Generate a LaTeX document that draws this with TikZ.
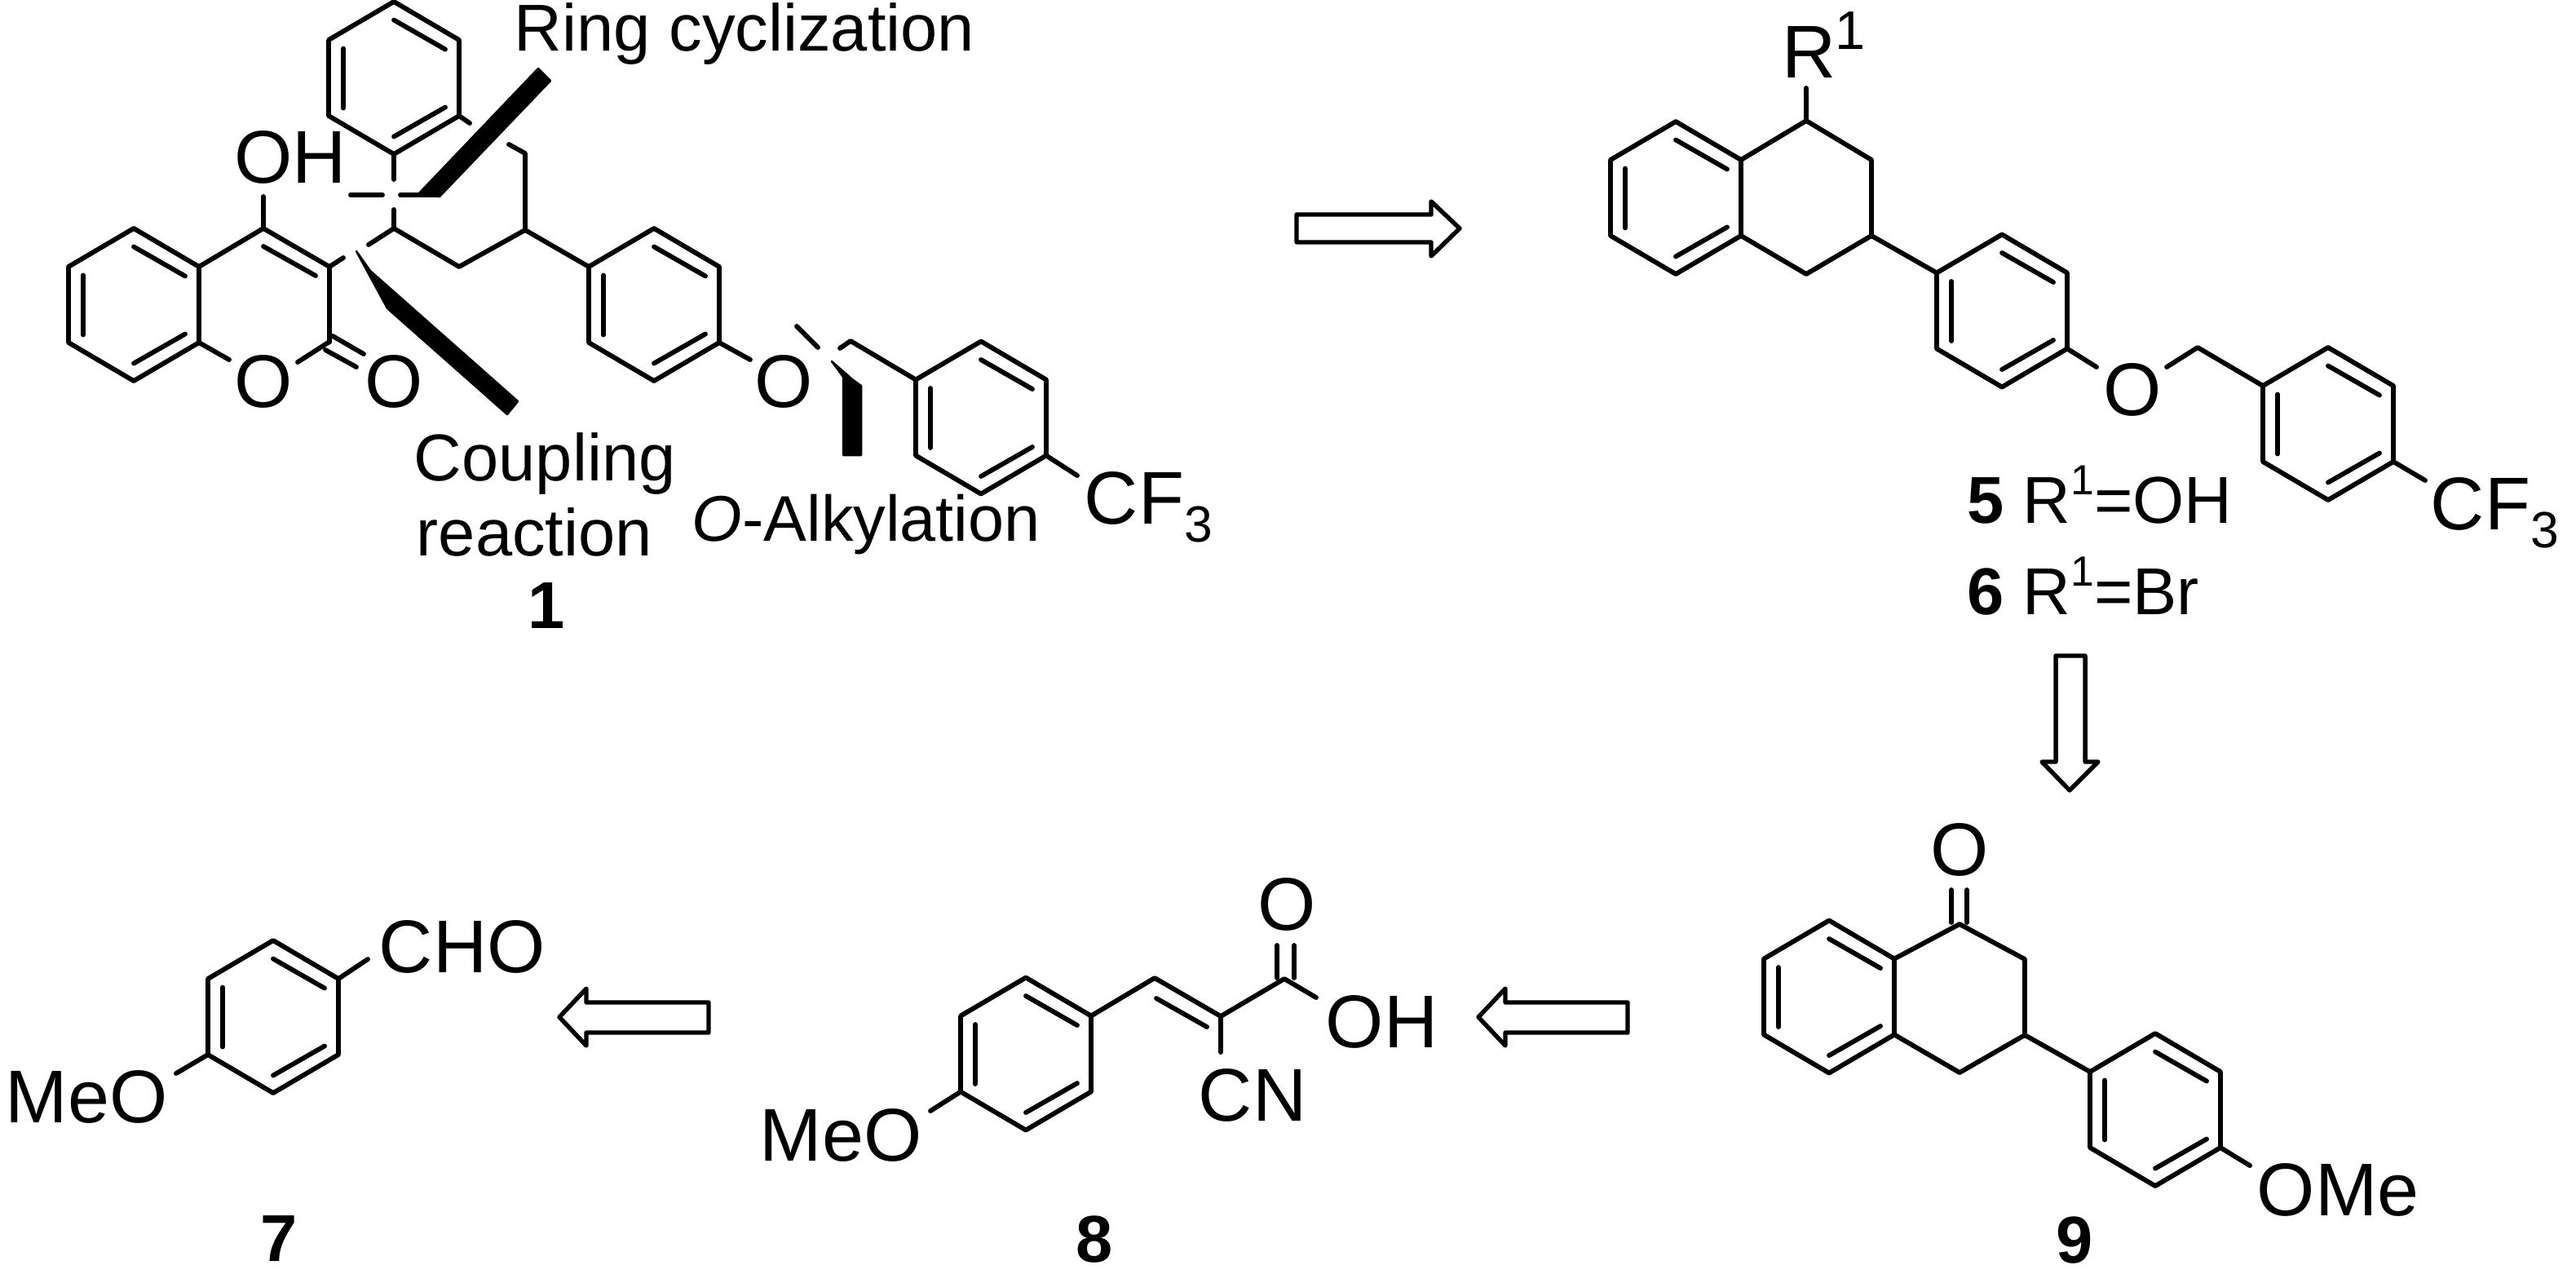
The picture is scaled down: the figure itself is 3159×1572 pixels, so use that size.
\documentclass[tikz,border=0pt]{standalone}
\usepackage{fontspec}
\setmainfont{Liberation Sans}
\newcommand{\atomfont}{\fontsize{22}{26}\selectfont}
\newcommand{\labelfont}{\fontsize{19.5}{23}\selectfont}
\newcommand{\lowthree}{\raisebox{-.25em}{\fontsize{15}{18}\selectfont 3}}
\newcommand{\highone}{\raisebox{.42em}{\fontsize{12.4}{15}\selectfont 1}}
\tikzset{
    bond/.style={line width=1.4pt, line cap=round, line join=round},
    inner/.style={bond},
    hollow/.style={line width=1.3pt, line join=round, fill=white},
    solidwedge/.style={fill=black, draw=black, line width=.6pt, line join=round},
    atom/.style={font=\atomfont, inner sep=0pt},
    atomtext/.style={font=\atomfont, inner sep=0pt, anchor=base west},
    labeltext/.style={font=\labelfont, inner sep=0pt, anchor=base west},
    tag/.style={font=\labelfont\bfseries, inner sep=0pt, anchor=base}
}
\begin{document}
\begin{tikzpicture}[x=.24pt, y=-.24pt]
    \useasboundingbox (0,0) rectangle (3159,1572);
    % every ring is the same hexagon, only the centre changes
    \foreach \r/\cx/\cy in {a/164/373.5, b/483/95.5, c/802/373.5, d/1203/512,
                            e/2055/242.5, f/2455/381, g/2855/519.5,
                            h/2243/1222, i/2643/1360.5, j/335/1246.5, k/1258/1292}{
        \coordinate (\r1) at (\cx,\cy-93.5);
        \coordinate (\r2) at (\cx+80,\cy-46.5);
        \coordinate (\r3) at (\cx+80,\cy+46.5);
        \coordinate (\r4) at (\cx,\cy+93.5);
        \coordinate (\r5) at (\cx-80,\cy+46.5);
        \coordinate (\r6) at (\cx-80,\cy-46.5);
        \draw[bond] (\r1)--(\r2)--(\r3)--(\r4)--(\r5)--(\r6)--cycle;
        \draw[inner] (\cx,\cy-71)--(\cx+63,\cy-35);
        \draw[inner] (\cx-62,\cy-36)--(\cx-62,\cy+37);
        \draw[inner] (\cx,\cy+72)--(\cx+63,\cy+36);
    }

    % compound 1
    \node[atom] (oh1) at (356,193) {OH};
    \node[atom] (ring1) at (323,468) {O};
    \node[atom] (keto1) at (483,468) {O};
    \node[atom] (ether1) at (961,468) {O};
    \node[atomtext] (cf1) at (1329,642) {CF\lowthree};
    \coordinate (p4) at (323,280);
    \coordinate (p3) at (404,327);
    \coordinate (p2) at (404,419);
    \coordinate (ch1) at (483,280);
    \coordinate (cm1) at (563,327);
    \coordinate (cn1) at (644,282);
    \coordinate (cu1) at (644,188);
    \coordinate (bz1) at (1043,418);
    \draw[bond] (a2)--(p4)--(p3)--(p2);
    \draw[bond] (a2)--(a3);
    \draw[bond] (p4)--(323,241);
    \draw[bond] (323,302)--(387,338);
    \draw[bond] (a3)--(281,441);
    \draw[bond] (p2)--(365,444);
    \draw[bond] (408,412)--(446,434);
    \draw[bond] (399,429)--(437,450);
    \draw[bond] (p3)--(421,316);
    \draw[bond] (452,300)--(ch1)--(cm1)--(cn1)--(cu1)--(624,177);
    \draw[bond] (ch1)--(483,257);
    \draw[bond] (b4)--(483,220);
    \draw[bond] (b3)--(576,151);
    \draw[bond] (430,239)--(469,239);
    \draw[bond] (491,239)--(536,239);
    \draw[bond] (cn1)--(c6);
    \draw[bond] (c3)--(920,441);
    \draw[bond] (977,400)--(1003,426);
    \draw[bond] (1030,427)--(bz1)--(d6);
    \draw[bond] (d3)--(1321,583);
    \fill[solidwedge] (660,84)--(675,99)--(539,241)--(512,239)--cycle;
    \fill[solidwedge] (437,308)--(454,332)--(635,492)--(622,508)--(475,378)--cycle;
    \fill[solidwedge] (1020,443)--(1045,465)--(1056,473)--(1056,558)--(1034,558)--(1034,462)--cycle;
    \node[labeltext] (cyc) at (630,62) {Ring cyclization};
    \node[labeltext] (cpl) at (507,589) {Coupling};
    \node[labeltext] (rea) at (510,681) {reaction};
    \node[labeltext, font=\fontsize{19}{23}\selectfont] (alk) at (848,663) {\textit{O}-Alkylation};
    \node[tag] (n1) at (670,770) {1};

    % compounds 5 and 6
    \node[atomtext] (r5) at (2185,95) {R};
    \node[font=\fontsize{16}{19}\selectfont, inner sep=0pt, anchor=base west] (r5up) at (2250,60) {1};
    \node[atom] (ether5) at (2615,478) {O};
    \node[atomtext] (cf5) at (2980,649) {CF\lowthree};
    \coordinate (c15) at (2215,148);
    \coordinate (c25) at (2295,196);
    \coordinate (c35) at (2295,289);
    \coordinate (c45) at (2215,336);
    \coordinate (bz5) at (2695,426);
    \draw[bond] (e2)--(c15)--(c25)--(c35)--(c45)--(e3);
    \draw[bond] (e2)--(e3);
    \draw[bond] (c15)--(2215,108);
    \draw[bond] (c35)--(f6);
    \draw[bond] (f3)--(2571,450);
    \draw[bond] (2657,450)--(bz5)--(g6);
    \draw[bond] (g3)--(2974,589);
    \node[labeltext] (t5) at (2412,641) {\textbf{5} R\highone=OH};
    \node[labeltext] (t6) at (2412,753) {\textbf{6} R\highone=Br};

    % compound 9
    \node[atom] (o9) at (2403,1042) {O};
    \node[atomtext] (ome9) at (2767,1490) {OMe};
    \coordinate (c19) at (2403,1133);
    \coordinate (c29) at (2483,1176);
    \coordinate (c39) at (2483,1269);
    \coordinate (c49) at (2403,1315);
    \draw[bond] (h2)--(c19)--(c29)--(c39)--(c49)--(h3);
    \draw[bond] (h2)--(h3);
    \draw[bond] (2393,1091)--(2393,1131);
    \draw[bond] (2412,1091)--(2412,1131);
    \draw[bond] (c39)--(i6);
    \draw[bond] (i3)--(2759,1429);
    \node[tag] (n9) at (2544,1548) {9};

    % compound 8
    \node[atom] (o8) at (1578,1109) {O};
    \node[atomtext] (oh8) at (1625,1284) {OH};
    \node[atomtext] (cn8) at (1469,1374) {CN};
    \node[atomtext] (meo8) at (931,1423) {MeO};
    \coordinate (v18) at (1416,1199);
    \coordinate (v28) at (1497,1246);
    \coordinate (v38) at (1575,1200);
    \draw[bond] (k2)--(v18)--(v28)--(v38)--(1614,1223);
    \draw[bond] (1418,1224)--(1480,1259);
    \draw[bond] (v28)--(1497,1290);
    \draw[bond] (1566,1159)--(1566,1199);
    \draw[bond] (1587,1159)--(1587,1199);
    \draw[bond] (k5)--(1141,1362);
    \node[tag] (n8) at (1342,1547) {8};

    % compound 7
    \node[atomtext] (cho7) at (464,1192) {CHO};
    \node[atomtext] (meo7) at (6,1376) {MeO};
    \draw[bond] (j2)--(451,1176);
    \draw[bond] (j5)--(216,1316);
    \node[tag] (n7) at (342,1546) {7};

    % open arrows
    \draw[hollow] (1590,263)--(1755,263)--(1755,247)--(1790,280)--(1755,314)--(1755,297)--(1590,297)--cycle;
    \draw[hollow] (2521,804)--(2557,804)--(2557,934)--(2573,934)--(2538,969)--(2504,934)--(2521,934)--cycle;
    \foreach \tip/\back/\tail in {686/719/869, 1813/1846/1996}{
        \draw[hollow] (\tail,1229)--(\back,1229)--(\back,1212)--(\tip,1247)--(\back,1282)--(\back,1266)--(\tail,1266)--cycle;
    }
\end{tikzpicture}
\end{document}
